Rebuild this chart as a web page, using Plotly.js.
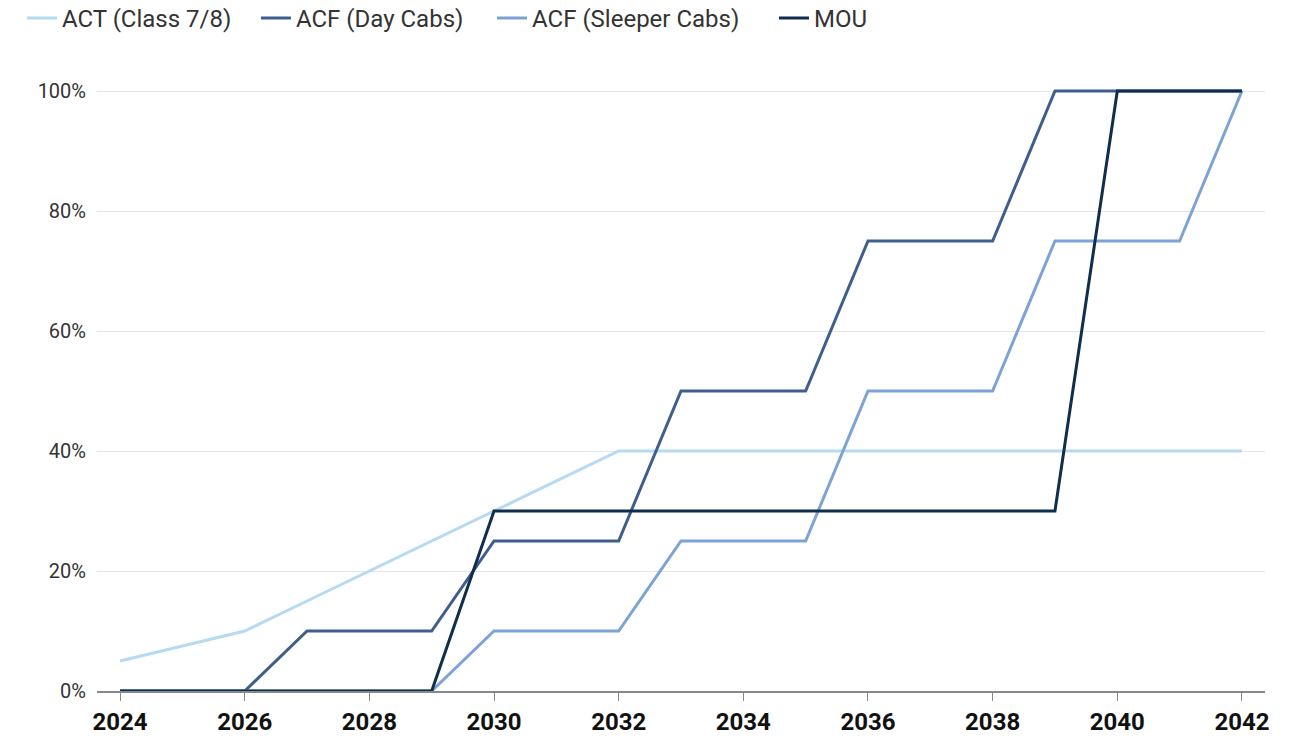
<!DOCTYPE html>
<html>
<head>
<meta charset="utf-8">
<script src="https://cdn.plot.ly/plotly-3.0.1.min.js"></script>
<style>html,body{margin:0;padding:0;background:#fff;}#chart{width:1294px;height:744px;}</style>
</head>
<body>
<div id="chart"></div>
<script>
const years = [2024,2025,2026,2027,2028,2029,2030,2031,2032,2033,2034,2035,2036,2037,2038,2039,2040,2041,2042];
const actClass78 = [5,7.5,10,15,20,25,30,35,40,40,40,40,40,40,40,40,40,40,40];
const acfDayCabs = [0,0,0,10,10,10,25,25,25,50,50,50,75,75,75,100,100,100,100];
const acfSleeperCabs = [0,0,0,0,0,0,10,10,10,25,25,25,50,50,50,75,75,75,100];
const mou = [0,0,0,0,0,0,30,30,30,30,30,30,30,30,30,30,100,100,100];
const seriesNames = ['ACT (Class 7/8)','ACF (Day Cabs)','ACF (Sleeper Cabs)','MOU'];
const xTicks = [2024,2026,2028,2030,2032,2034,2036,2038,2040,2042];
const yTicks = [0,20,40,60,80,100];
const yTickLabels = ['0%','20%','40%','60%','80%','100%'];

const colors = ['#b5daf2','#3e5f8e','#7da3d6','#0f2e4c'];
const legendIds = ['legend','legend2','legend3','legend4'];
const legendX = [-0.0642, 0.1361, 0.3382, 0.5796];
const datasets = [actClass78, acfDayCabs, acfSleeperCabs, mou];
const traces = datasets.map((d,i)=>({
  x: years, y: d, name: seriesNames[i], type:'scatter', mode:'lines',
  line:{color:colors[i], width:3, shape:'linear'},
  legend: legendIds[i],
  cliponaxis:false
}));

const layout = {
  width:1294, height:744,
  margin:{l:97, r:29, t:85, b:53, autoexpand:false},
  paper_bgcolor:'#fff', plot_bgcolor:'#fff',
  font:{family:'Roboto, sans-serif', color:'#333'},
  showlegend:true,
  xaxis:{range:[2023.63,2042.37], tickvals:xTicks, ticktext:xTicks.map(String),
    showgrid:false, zeroline:false, showline:true, linecolor:'#888', linewidth:2,
    ticks:'outside', ticklen:8, tickcolor:'#888', tickwidth:1,
    tickfont:{size:24, color:'#111', family:'Roboto, sans-serif', weight:'bold'}},
  yaxis:{range:[0,101], tickvals:yTicks, ticktext:yTickLabels,
    showgrid:true, gridcolor:'#e6e6e6', gridwidth:1, zeroline:false, showline:false,
    ticks:'', ticklabelstandoff:10,
    tickfont:{size:20, color:'#333', family:'Roboto, sans-serif'}}
};
legendIds.forEach((id,i)=>{
  layout[id] = {orientation:'h', x:legendX[i], xanchor:'left', y:1.11, yanchor:'middle',
    font:{size:24, color:'#333'}, itemwidth:30, bgcolor:'rgba(0,0,0,0)'};
});
Plotly.newPlot('chart', traces, layout, {displayModeBar:false});
</script>
</body>
</html>
